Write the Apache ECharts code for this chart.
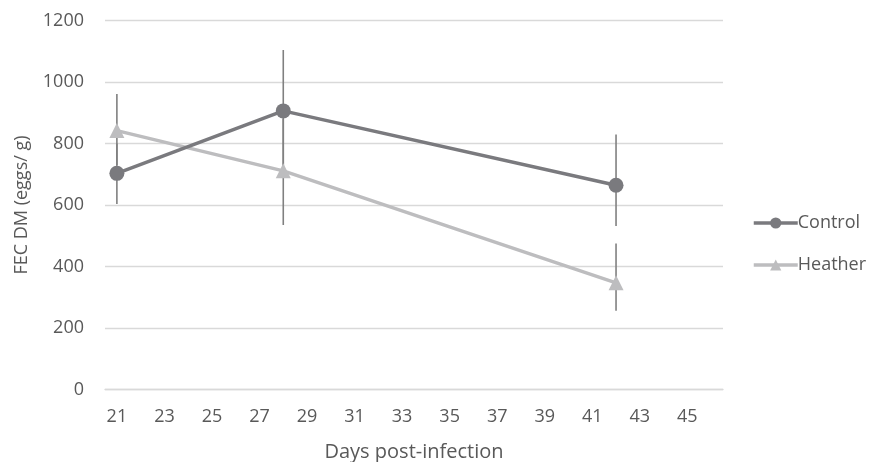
<!DOCTYPE html>
<html><head><meta charset="utf-8">
<script src="https://cdn.jsdelivr.net/npm/echarts@6/dist/echarts.min.js"></script>
<style>html,body{margin:0;padding:0;background:#fff}#c{width:872px;height:462px}</style>
</head><body><div id="c"></div>
<script>
const days = [21, 28, 42];
const controlMean = [703, 906, 664];
const controlLow = [603, 720, 532];
const controlHigh = [800, 1104, 829];
const heatherMean = [842, 711, 347];
const heatherLow = [730, 535, 256];
const heatherHigh = [961, 880, 475];
const xTicks = [21, 23, 25, 27, 29, 31, 33, 35, 37, 39, 41, 43, 45];
const yTicks = [0, 200, 400, 600, 800, 1000, 1200];

const FONT = 'Open Sans';
const TXT = '#595959';

function errSeries(low, high) {
  return {
    type: 'custom',
    silent: true,
    z: 1,
    data: days.map((d, i) => [d, low[i], high[i]]),
    renderItem: function (params, api) {
      const a = api.coord([api.value(0), api.value(1)]);
      const b = api.coord([api.value(0), api.value(2)]);
      return {
        type: 'line',
        shape: { x1: a[0], y1: a[1], x2: b[0], y2: b[1] },
        style: { stroke: '#808080', lineWidth: 1.6 }
      };
    }
  };
}

const chart = echarts.init(document.getElementById('c'), null, { renderer: 'canvas' });
chart.setOption({
  animation: false,
  grid: { left: 105, right: 149, top: 20.5, bottom: 72.5, containLabel: false, outerBoundsMode: 'none' },
  legend: {
    data: ['Control', 'Heather'],
    orient: 'vertical',
    left: 752,
    top: 214,
    padding: 0,
    itemWidth: 44,
    itemHeight: 14,
    itemGap: 24,
    lineStyle: { width: 3.5 },
    textStyle: { fontFamily: FONT, fontSize: 18, color: TXT, padding: [0, 0, 0, -5] }
  },
  xAxis: {
    type: 'value',
    min: 20.5,
    max: 46.5,
    name: 'Days post-infection',
    nameLocation: 'middle',
    nameGap: 53,
    nameTextStyle: { fontFamily: FONT, fontSize: 20, color: TXT },
    splitLine: { show: false },
    axisLine: { show: true, lineStyle: { color: '#d9d9d9', width: 1.3 } },
    axisTick: { show: false },
    axisLabel: {
      customValues: xTicks,
      fontFamily: FONT, fontSize: 18, color: TXT, margin: 18
    }
  },
  yAxis: {
    type: 'value',
    min: 0,
    max: 1200,
    interval: 200,
    name: 'FEC DM (eggs/ g)',
    nameLocation: 'middle',
    nameGap: 74,
    nameTextStyle: { fontFamily: FONT, fontSize: 18, color: TXT },
    axisLine: { show: false },
    axisTick: { show: false },
    splitLine: { lineStyle: { color: '#d9d9d9', width: 1.3 } },
    axisLabel: { fontFamily: FONT, fontSize: 18, color: TXT, margin: 21,
      customValues: yTicks, formatter: v => String(v) }
  },
  series: [
    errSeries(controlLow, controlHigh),
    errSeries(heatherLow, heatherHigh),
    {
      name: 'Control', type: 'line', z: 3,
      data: days.map((d, i) => [d, controlMean[i]]),
      symbol: 'circle', symbolSize: 15,
      lineStyle: { color: '#7a7a7e', width: 3.5 },
      itemStyle: { color: '#7a7a7e' }
    },
    {
      name: 'Heather', type: 'line', z: 2,
      data: days.map((d, i) => [d, heatherMean[i]]),
      symbol: 'triangle', symbolSize: 15,
      lineStyle: { color: '#bdbdbf', width: 3.5 },
      itemStyle: { color: '#bdbdbf' }
    }
  ]
});
</script></body></html>
